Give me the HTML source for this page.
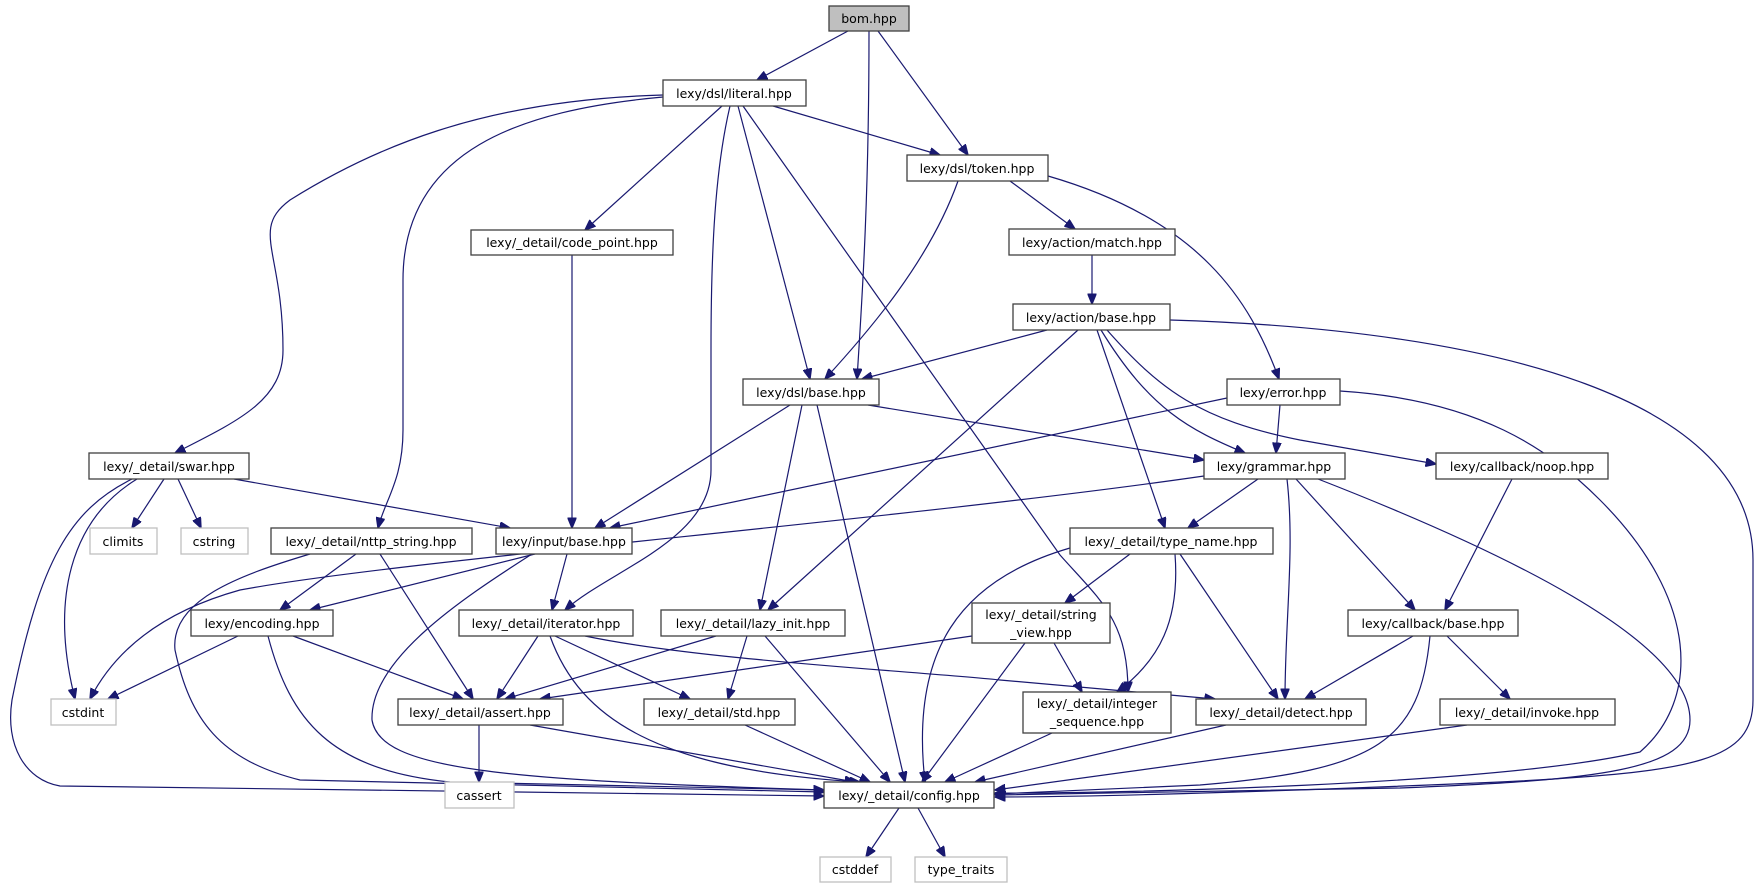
<!DOCTYPE html>
<html><head><meta charset="utf-8"><style>
html,body{margin:0;padding:0;background:#fff;}
svg{display:block;}
text{font-family:"DejaVu Sans","Liberation Sans",sans-serif;font-size:12.5px;fill:#000;text-anchor:middle;}
.n{fill:#fff;stroke:#404040;stroke-width:1.3;}
.g{fill:#fff;stroke:#bfbfbf;stroke-width:1.3;}
.e{fill:none;stroke:#191970;stroke-width:1.2;}
</style></head><body>
<svg width="1759" height="888" viewBox="0 0 1759 888" xmlns="http://www.w3.org/2000/svg">
<defs><marker id="a" markerWidth="11" markerHeight="9" refX="10.5" refY="4.5" orient="auto" markerUnits="userSpaceOnUse"><path d="M0,0 L11,4.5 L0,9 z" fill="#191970" stroke="#191970"/></marker></defs>
<g class="e" marker-end="url(#a)">
<path d="M848,31 L757,80"/>
<path d="M869,31 C869,200 862,300 857,379"/>
<path d="M878,31 L968,155"/>
<path d="M773,106 L940,155"/>
<path d="M722,106 L585,230"/>
<path d="M663,95 C480,100 370,150 290,200 C250,230 283,250 283,350 C283,400 240,420 175,453"/>
<path d="M663,97 C520,110 403,150 403,280 L403,430 C403,480 385,500 378,528"/>
<path d="M730,106 C715,170 711,250 711,350 L711,470 C711,540 610,570 565,610"/>
<path d="M738,106 L810,379"/>
<path d="M743,106 L1060,555 C1100,600 1128,620 1128,692"/>
<path d="M958,181 C930,260 870,330 825,379"/>
<path d="M1010,181 L1075,229"/>
<path d="M1048,176 C1200,220 1250,300 1279,379"/>
<path d="M572,255 L572,528"/>
<path d="M1092,255 L1092,304"/>
<path d="M1047,330 L862,379"/>
<path d="M1170,320 C1500,330 1753,400 1753,560 L1753,700 C1753,760 1700,772 1500,782 C1200,795 1050,797 995,797"/>
<path d="M1078,330 L768,610"/>
<path d="M1097,330 L1165,528"/>
<path d="M1101,330 C1150,410 1190,430 1245,453"/>
<path d="M1107,330 C1160,390 1200,420 1300,440 L1436,464"/>
<path d="M868,405 L1204,460"/>
<path d="M790,405 L595,528"/>
<path d="M802,405 L760,610"/>
<path d="M817,405 L905,782"/>
<path d="M1280,405 L1276,453"/>
<path d="M1227,398 L610,528"/>
<path d="M1340,391 C1480,400 1550,450 1600,500 C1700,600 1700,700 1640,752 C1500,785 1100,794 995,793"/>
<path d="M164,479 L132,528"/>
<path d="M178,479 L201,528"/>
<path d="M234,479 L510,528"/>
<path d="M137,479 C70,520 50,600 75,699"/>
<path d="M132,479 C70,510 40,560 12,700 C5,745 25,780 60,786 L824,796"/>
<path d="M1204,476 C900,520 400,560 240,590 C150,615 110,660 90,699"/>
<path d="M1258,479 L1188,528"/>
<path d="M1287,479 C1295,550 1285,620 1285,699"/>
<path d="M1296,479 L1415,610"/>
<path d="M1318,479 C1500,550 1690,640 1690,720 C1690,770 1600,780 1400,788 L995,795"/>
<path d="M1512,479 L1445,610"/>
<path d="M356,554 L280,610"/>
<path d="M380,554 L473,699"/>
<path d="M310,554 C240,575 170,600 175,650 C190,720 220,760 300,780 L824,792"/>
<path d="M535,554 L310,610"/>
<path d="M567,554 L552,610"/>
<path d="M532,554 C460,600 370,660 372,720 C380,770 500,780 824,790"/>
<path d="M1130,554 L1065,603"/>
<path d="M1070,548 C960,580 910,650 925,782"/>
<path d="M1175,554 C1180,620 1160,660 1117,692"/>
<path d="M1180,554 L1278,699"/>
<path d="M238,636 L108,699"/>
<path d="M293,636 L463,699"/>
<path d="M268,636 C290,720 330,770 450,782 L824,790"/>
<path d="M538,636 L497,699"/>
<path d="M555,636 L690,699"/>
<path d="M550,636 C580,720 660,770 860,782"/>
<path d="M585,636 C700,660 900,670 1000,680 L1215,699"/>
<path d="M716,636 L505,699"/>
<path d="M747,636 L728,699"/>
<path d="M765,636 L890,782"/>
<path d="M972,636 L540,699"/>
<path d="M1054,643 L1082,692"/>
<path d="M1025,643 L922,782"/>
<path d="M1413,636 L1305,699"/>
<path d="M1447,636 L1510,699"/>
<path d="M1430,636 C1420,740 1380,770 1200,785 L995,794"/>
<path d="M479,725 L479,782"/>
<path d="M530,725 L855,782"/>
<path d="M745,725 L870,782"/>
<path d="M1052,733 L945,782"/>
<path d="M1226,725 L975,782"/>
<path d="M1467,725 L995,790"/>
<path d="M899,808 L866,857"/>
<path d="M918,808 L945,857"/>
</g>
<g>
<rect x="829" y="6" width="80" height="25" fill="#bfbfbf" stroke="#404040" stroke-width="1.3"/><text x="869" y="23">bom.hpp</text>
<rect class="n" x="663" y="80" width="143" height="26"/><text x="734" y="98">lexy/dsl/literal.hpp</text>
<rect class="n" x="907" y="155" width="141" height="26"/><text x="977" y="173">lexy/dsl/token.hpp</text>
<rect class="n" x="471" y="230" width="202" height="25"/><text x="572" y="247">lexy/_detail/code_point.hpp</text>
<rect class="n" x="1009" y="229" width="166" height="26"/><text x="1092" y="247">lexy/action/match.hpp</text>
<rect class="n" x="1013" y="304" width="157" height="26"/><text x="1091" y="322">lexy/action/base.hpp</text>
<rect class="n" x="743" y="379" width="136" height="26"/><text x="811" y="397">lexy/dsl/base.hpp</text>
<rect class="n" x="1227" y="379" width="113" height="26"/><text x="1283" y="397">lexy/error.hpp</text>
<rect class="n" x="89" y="453" width="160" height="26"/><text x="169" y="471">lexy/_detail/swar.hpp</text>
<rect class="n" x="1204" y="453" width="141" height="26"/><text x="1274" y="471">lexy/grammar.hpp</text>
<rect class="n" x="1436" y="453" width="172" height="26"/><text x="1522" y="471">lexy/callback/noop.hpp</text>
<rect class="g" x="90" y="528" width="67" height="26"/><text x="123" y="546">climits</text>
<rect class="g" x="181" y="528" width="67" height="26"/><text x="214" y="546">cstring</text>
<rect class="n" x="271" y="528" width="201" height="26"/><text x="371" y="546">lexy/_detail/nttp_string.hpp</text>
<rect class="n" x="496" y="528" width="136" height="26"/><text x="564" y="546">lexy/input/base.hpp</text>
<rect class="n" x="1070" y="528" width="203" height="26"/><text x="1171" y="546">lexy/_detail/type_name.hpp</text>
<rect class="n" x="191" y="610" width="142" height="26"/><text x="262" y="628">lexy/encoding.hpp</text>
<rect class="n" x="459" y="610" width="174" height="26"/><text x="546" y="628">lexy/_detail/iterator.hpp</text>
<rect class="n" x="661" y="610" width="184" height="26"/><text x="753" y="628">lexy/_detail/lazy_init.hpp</text>
<rect class="n" x="972" y="603" width="138" height="40"/><text x="1041" y="619">lexy/_detail/string</text><text x="1041" y="637">_view.hpp</text>
<rect class="n" x="1348" y="610" width="170" height="26"/><text x="1433" y="628">lexy/callback/base.hpp</text>
<rect class="g" x="51" y="699" width="65" height="26"/><text x="83" y="717">cstdint</text>
<rect class="n" x="398" y="699" width="165" height="26"/><text x="480" y="717">lexy/_detail/assert.hpp</text>
<rect class="n" x="644" y="699" width="151" height="26"/><text x="719" y="717">lexy/_detail/std.hpp</text>
<rect class="n" x="1023" y="692" width="148" height="41"/><text x="1097" y="708">lexy/_detail/integer</text><text x="1097" y="726">_sequence.hpp</text>
<rect class="n" x="1196" y="699" width="170" height="26"/><text x="1281" y="717">lexy/_detail/detect.hpp</text>
<rect class="n" x="1440" y="699" width="175" height="26"/><text x="1527" y="717">lexy/_detail/invoke.hpp</text>
<rect class="g" x="445" y="782" width="69" height="26"/><text x="479" y="800">cassert</text>
<rect class="n" x="824" y="782" width="170" height="26"/><text x="909" y="800">lexy/_detail/config.hpp</text>
<rect class="g" x="820" y="857" width="71" height="25"/><text x="855" y="874">cstddef</text>
<rect class="g" x="915" y="857" width="92" height="25"/><text x="961" y="874">type_traits</text>
</g>
</svg>
</body></html>
